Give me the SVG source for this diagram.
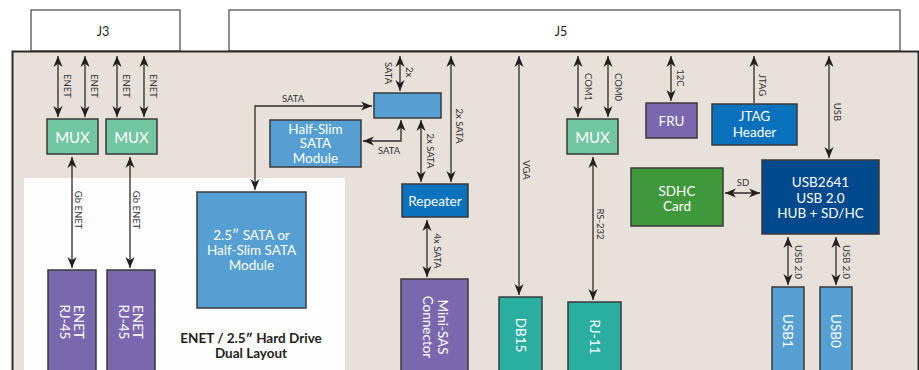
<svg xmlns="http://www.w3.org/2000/svg" width="919" height="370" viewBox="0 0 919 370">
<defs>
<marker id="ah" viewBox="0 0 12 10" refX="12" refY="5" markerWidth="11" markerHeight="9.5" markerUnits="userSpaceOnUse" orient="auto-start-reverse"><path d="M0,0 L12,5 L0,10 L3.5,5 z" fill="#231f20"/></marker>
<style>
.conn{fill:none;stroke:#2b2b2b;stroke-width:1.3}
.bx{stroke:#3a3a3a;stroke-width:1.5}
.t{font-family:Lato,"Noto Sans",sans-serif;fill:#fff;text-anchor:middle;dominant-baseline:central}
.bt{font-size:13.5px}
.lb{font-family:Lato,"Noto Sans",sans-serif;fill:#333;font-size:9.5px;text-anchor:middle;dominant-baseline:central}
.k{font-family:Lato,"Noto Sans",sans-serif;fill:#231f20;text-anchor:middle;dominant-baseline:central}
</style>
</defs>
<rect width="919" height="370" fill="#ffffff"/>
<g id="J3"><rect x="31" y="10" width="149" height="41" fill="#fff" stroke="#444" stroke-width="1.2"/><text class="k" x="103" y="31" font-size="12.5">J3</text></g>
<g id="J5"><rect x="229" y="10" width="671" height="41" fill="#fff" stroke="#444" stroke-width="1.2"/><text class="k" x="561" y="31" font-size="12.5">J5</text></g>
<g id="board"><rect x="12.5" y="51.5" width="906" height="330" fill="#e8e1da" stroke="#2b2b2b" stroke-width="2"/></g>
<g id="dual-layout"><rect x="24" y="178" width="321" height="200" fill="#fdfdfd"/>
<text class="k" x="251" y="338" font-size="13.5" font-weight="bold">ENET / 2.5″ Hard Drive</text>
<text class="k" x="251" y="353" font-size="13.5" font-weight="bold">Dual Layout</text></g>

<g id="mux1"><rect class="bx" x="47" y="119" width="51" height="35" fill="#72c6a1"/><text class="t" x="72.5" y="136.5" font-size="15">MUX</text></g>
<g id="mux2"><rect class="bx" x="106" y="119" width="51" height="35" fill="#72c6a1"/><text class="t" x="131.5" y="136.5" font-size="15">MUX</text></g>
<g id="rj45a"><rect class="bx" x="48" y="270" width="48" height="110" fill="#7a68ae"/><g transform="translate(72,322) rotate(90)"><text class="t bt" x="0" y="-7">ENET</text><text class="t bt" x="0" y="7">RJ-45</text></g></g>
<g id="rj45b"><rect class="bx" x="107" y="270" width="48" height="110" fill="#7a68ae"/><g transform="translate(131,322) rotate(90)"><text class="t bt" x="0" y="-7">ENET</text><text class="t bt" x="0" y="7">RJ-45</text></g></g>
<g id="sata-module"><rect class="bx" x="197" y="192" width="109" height="116" fill="#569fd3"/><text class="t bt" x="251.5" y="235">2.5″ SATA or</text><text class="t bt" x="251.5" y="250">Half-Slim SATA</text><text class="t bt" x="251.5" y="264.5">Module</text></g>
<g id="half-slim"><rect class="bx" x="270" y="120" width="91" height="47" fill="#569fd3"/><text class="t bt" x="315.5" y="128.5">Half-Slim</text><text class="t bt" x="315.5" y="143">SATA</text><text class="t bt" x="315.5" y="157.5">Module</text></g>
<g id="sata-switch"><rect class="bx" x="374" y="93" width="67" height="25" fill="#569fd3"/></g>
<g id="repeater"><rect class="bx" x="402" y="184" width="66" height="33" fill="#0a71bc"/><text class="t bt" x="435" y="200.5">Repeater</text></g>
<g id="mini-sas"><rect class="bx" x="401" y="279" width="67" height="101" fill="#7a68ae"/><g transform="translate(435,327) rotate(90)"><text class="t bt" x="0" y="-8">Mini-SAS</text><text class="t bt" x="0" y="7">Connector</text></g></g>
<g id="db15"><rect class="bx" x="499" y="297" width="43" height="83" fill="#2aae9f"/><text class="t bt" transform="translate(520.5,335) rotate(90)">DB15</text></g>
<g id="mux3"><rect class="bx" x="567" y="119" width="51" height="35" fill="#72c6a1"/><text class="t" x="592.5" y="136.5" font-size="15">MUX</text></g>
<g id="rj11"><rect class="bx" x="568" y="302" width="53" height="78" fill="#2aae9f"/><text class="t bt" transform="translate(594.5,337) rotate(90)">RJ-11</text></g>
<g id="fru"><rect class="bx" x="646" y="103" width="51" height="35" fill="#7a68ae"/><text class="t bt" x="671.5" y="120.5">FRU</text></g>
<g id="jtag"><rect class="bx" x="712" y="104" width="85" height="41" fill="#0a71bc"/><text class="t bt" x="754.5" y="116">JTAG</text><text class="t bt" x="754.5" y="131.5">Header</text></g>
<g id="sdhc"><rect class="bx" x="631" y="168" width="92" height="58" fill="#3f993b"/><text class="t bt" x="677" y="190.5">SDHC</text><text class="t bt" x="677" y="205.5">Card</text></g>
<g id="usb2641"><rect class="bx" x="762" y="160" width="117" height="74" fill="#00498c"/><text class="t bt" x="820.5" y="181.5">USB2641</text><text class="t bt" x="820.5" y="197.5">USB 2.0</text><text class="t bt" x="820.5" y="213">HUB + SD/HC</text></g>
<g id="usb1"><rect class="bx" x="772" y="287" width="32" height="93" fill="#569fd3"/><text class="t bt" transform="translate(788,331) rotate(90)">USB1</text></g>
<g id="usb0"><rect class="bx" x="820" y="287" width="32" height="93" fill="#569fd3"/><text class="t bt" transform="translate(836,331) rotate(90)">USB0</text></g>

<g id="connectors" marker-start="url(#ah)" marker-end="url(#ah)">
<line class="conn" x1="58" y1="56" x2="58" y2="117"/>
<line class="conn" x1="85" y1="56" x2="85" y2="117"/>
<line class="conn" x1="117" y1="56" x2="117" y2="117"/>
<line class="conn" x1="144" y1="56" x2="144" y2="117"/>
<line class="conn" x1="72" y1="157" x2="72" y2="268"/>
<line class="conn" x1="130" y1="157" x2="130" y2="268"/>
<path class="conn" d="M255,190 V106 H372"/>
<line class="conn" x1="400" y1="56" x2="400" y2="91"/>
<path class="conn" d="M401,120 V141 H363"/>
<line class="conn" x1="421" y1="120" x2="421" y2="182"/>
<line class="conn" x1="451" y1="56" x2="451" y2="182"/>
<line class="conn" x1="427" y1="220" x2="427" y2="277"/>
<line class="conn" x1="519" y1="56" x2="519" y2="295"/>
<line class="conn" x1="578" y1="56" x2="578" y2="117"/>
<line class="conn" x1="608" y1="56" x2="608" y2="117"/>
<line class="conn" x1="593" y1="157" x2="593" y2="300"/>
<line class="conn" x1="671" y1="56" x2="671" y2="101"/>
<line class="conn" x1="754" y1="103" x2="754" y2="56" marker-start="none"/>
<line class="conn" x1="829" y1="56" x2="829" y2="158"/>
<line class="conn" x1="725" y1="193" x2="760" y2="193"/>
<line class="conn" x1="788" y1="237" x2="788" y2="285"/>
<line class="conn" x1="836" y1="237" x2="836" y2="285"/>
</g>
<g id="connector-labels">
<text class="lb" transform="translate(67,86) rotate(90)">ENET</text>
<text class="lb" transform="translate(94,86) rotate(90)">ENET</text>
<text class="lb" transform="translate(126,86) rotate(90)">ENET</text>
<text class="lb" transform="translate(153,86) rotate(90)">ENET</text>
<text class="lb" transform="translate(78,210) rotate(90)" font-size="9">Gb ENET</text>
<text class="lb" transform="translate(136,210) rotate(90)" font-size="9">Gb ENET</text>
<text class="lb" x="293" y="98.5">SATA</text>
<text class="lb" transform="translate(388,73) rotate(90)">SATA</text>
<text class="lb" transform="translate(409.5,72) rotate(90)">2x</text>
<text class="lb" x="389" y="150.5">SATA</text>
<text class="lb" transform="translate(430,151) rotate(90)">2x SATA</text>
<text class="lb" transform="translate(459.5,126) rotate(90)">2x SATA</text>
<text class="lb" transform="translate(437,251) rotate(90)" font-size="8.5">4x SATA</text>
<text class="lb" transform="translate(526,170) rotate(90)">VGA</text>
<text class="lb" transform="translate(588.5,87) rotate(90)">COM1</text>
<text class="lb" transform="translate(618.5,87) rotate(90)">COM0</text>
<text class="lb" transform="translate(600,224) rotate(90)" font-size="9">RS-232</text>
<text class="lb" transform="translate(680.5,78) rotate(90)">12C</text>
<text class="lb" transform="translate(762,85) rotate(90)">JTAG</text>
<text class="lb" transform="translate(837,112) rotate(90)">USB</text>
<text class="lb" x="743" y="182">SD</text>
<text class="lb" transform="translate(798.5,262) rotate(90)">USB 2.0</text>
<text class="lb" transform="translate(846.5,262) rotate(90)">USB 2.0</text>
</g>
</svg>
